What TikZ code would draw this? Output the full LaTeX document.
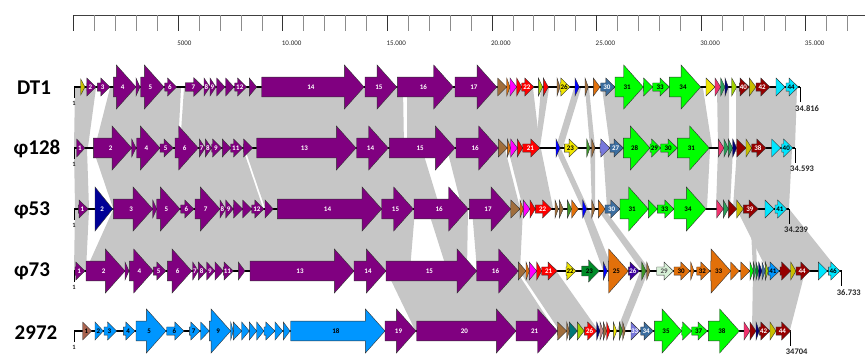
\documentclass[tikz,border=0pt]{standalone}
\usepackage{fontspec}
\setmainfont{Carlito}

\definecolor{phpurple}{RGB}{128,0,128}
\definecolor{phbrown}{RGB}{160,110,60}
\definecolor{phorange}{RGB}{226,112,10}
\definecolor{phmagenta}{RGB}{255,0,255}
\definecolor{phred}{RGB}{255,0,0}
\definecolor{phlime}{RGB}{0,255,0}
\definecolor{phygreen}{RGB}{160,210,0}
\definecolor{phgreen}{RGB}{60,150,40}
\definecolor{phyellow}{RGB}{240,230,0}
\definecolor{phblue}{RGB}{0,0,255}
\definecolor{phsteel}{RGB}{60,110,160}
\definecolor{phpink}{RGB}{240,50,110}
\definecolor{phsea}{RGB}{40,160,90}
\definecolor{phnavy}{RGB}{0,0,120}
\definecolor{phdred}{RGB}{150,0,0}
\definecolor{pholive}{RGB}{200,190,0}
\definecolor{phcyan}{RGB}{0,230,255}
\definecolor{phsky}{RGB}{0,150,255}
\definecolor{phdgreen}{RGB}{0,140,40}
\definecolor{phpale}{RGB}{215,240,215}
\definecolor{phindigo}{RGB}{60,0,160}
\definecolor{phlav}{RGB}{120,120,220}
\definecolor{phteal}{RGB}{0,120,120}
\definecolor{phsienna}{RGB}{170,100,80}
\definecolor{phrosy}{RGB}{200,140,140}
\definecolor{phdblue}{RGB}{0,0,150}
\definecolor{homgray}{RGB}{198,198,198}

\tikzset{
  orf/.style={draw=black!80,line width=0.4pt,line join=miter},
  orflbl/.style={font=\fontsize{7}{7}\selectfont\bfseries,inner sep=0pt},
  hom/.style={fill=homgray},
  backbone/.style={line width=1.3pt,black},
  rowlbl/.style={font=\fontsize{21}{21}\selectfont\bfseries,inner sep=0pt},
  endlbl/.style={font=\fontsize{8.5}{8.5}\selectfont\bfseries,text=black!85,inner sep=0pt},
  rullbl/.style={font=\fontsize{7}{7}\selectfont,text=black!85,inner sep=0pt}
}

\newcounter{orfno}
% #1 row y, #2 start, #3 end, #4 half height of head, #5 fill, #6 label, #7 label colour
\newcommand\orf[7]{%
  \pgfmathsetmacro\hl{min(#3-#2,0.8*#4+2)}%
  \pgfmathsetmacro\hb{0.45*#4}%
  \pgfmathsetmacro\xh{#3-\hl}%
  \pgfmathsetmacro\xl{#2+0.5*(#3-#2)-0.1*\hl}%
  \filldraw[orf,fill=#5] (#2,#1-\hb) -- (\xh,#1-\hb) -- (\xh,#1-#4) -- (#3,#1)
    -- (\xh,#1+#4) -- (\xh,#1+\hb) -- (#2,#1+\hb) -- cycle;
  \stepcounter{orfno}%
  \node[orflbl,text=#7] (orf-\arabic{orfno}) at (\xl,#1) {#6};
}
% #1 row y, #2 end x, #3 name, #4 length text
\newcommand\genome[4]{%
  \draw[backbone] (74,#1) -- (#2,#1);
  \draw[line width=0.8pt] (74,#1) -- (74,#1+11);
  \node[endlbl,font=\fontsize{6.5}{6.5}\selectfont\bfseries] (#3-one) at (74,#1+16) {1};
  \draw[line width=0.8pt] (#2,#1) -- (#2,#1+15);
  \node[endlbl,anchor=north west] (#3-len) at (#2-5,#1+18) {#4};
}

\begin{document}
\begin{tikzpicture}[x=1pt,y=-1pt]
\useasboundingbox (0,0) rectangle (865,356);

% ruler
\draw[line width=1pt,black!75] (73.5,15) -- (865,15);
\foreach \k in {0,...,37}
  \draw[black!45,line width=0.5pt] ({73.5+20.92*\k},15) -- ++(0,16);
\foreach \k/\t in {0/,5/5000,10/10.000,15/15.000,20/20.000,25/25.000,30/30.000,35/35.000}{
  \draw[black!80,line width=0.8pt] ({73.5+20.92*\k},15) -- ++(0,16);
  \node[rullbl,anchor=west] (tick-\k) at ({72.5+20.92*\k},43) {\t};
}

% homologous regions
\foreach \ta/\tb/\ba/\bb in {75/96/74/88,110/181/95/178,184/403/180/404,407/533/407/540,
  541/549/536/540,574/581/556/563,585/589/590/595,602/703/610/712,717/729/718/729,736/797/736/795}
  \fill[hom] (\ta,88) -- (\tb,88) -- (\bb,147) -- (\ba,147) -- cycle;
\foreach \ta/\tb/\ba/\bb in {74/87/75/89,93/243/113/263,245/422/265/440,447/505/462/520,
  508/541/523/553,555/561/582/588,590/595/592/595,603/710/607/707,
  718/733/716/730,737/792/733/789}
  \fill[hom] (\ta,149) -- (\tb,149) -- (\bb,208) -- (\ba,208) -- cycle;
\foreach \ta/\tb/\ba/\bb in {75/89/74/86,113/415/86/410,428/468/447/467,472/523/477/520,
  581/589/603/613,598/605/641/650,737/790/767/838,750/755/753/757}
  \fill[hom] (\ta,210) -- (\tb,210) -- (\bb,270) -- (\ba,270) -- cycle;
\foreach \ta/\tb/\ba/\bb in {387/517/415/555,520/557/559/598,640/648/617/625,753/805/752/790}
  \fill[hom] (\ta,272) -- (\tb,272) -- (\bb,330) -- (\ba,330) -- cycle;

% genomes
\node[rowlbl] (dt1) at (34,88) {DT1};
\node[rowlbl] (p128) at (37,149) {φ128};
\node[rowlbl] (p53) at (32,210) {φ53};
\node[rowlbl] (p73) at (32,271) {φ73};
\node[rowlbl] (s2972) at (36,333) {2972};

\genome{87}{800}{dt1}{34.816}
\foreach \a/\b/\h/\c/\l/\t in {80.7/85/8/pholive/{}/white,86.7/96/9/phpurple/2/white,
  97.3/110/9/phpurple/3/white,113.3/136/22/phpurple/4/white,136/140/9/phpurple/{}/white,
  140.7/164/22/phpurple/5/white,164.7/176.7/9/phpurple/6/white,185.3/203.3/9.5/phpurple/7/white,
  204/210/9/phpurple/8/white,210/216/9/phpurple/9/white,216.7/225/9/phpurple/{}/white,
  225.7/234/9/phpurple/{}/white,234.7/246.7/9/phpurple/12/white,249.3/256.7/9/phpurple/{}/white,
  261.7/364/22/phpurple/14/white,365/396.7/22/phpurple/15/white,397.3/453.3/22/phpurple/16/white,
  455/496.7/22/phpurple/17/white,497.7/506.7/9/phbrown/{}/white,506.7/510/9/phorange/{}/white,
  510/516.7/9/phmagenta/{}/white,516.7/521.7/9/phred/{}/white,521.7/534/9/phred/22/white,
  538.3/542.7/9/phygreen/{}/white,543.3/548.3/9/phred/{}/white,557/560/9/phbrown/{}/white,
  560/570/9/phyellow/26/black,575/579.3/9/phblue/{}/white,585/588.3/9/phbrown/{}/white,
  593.3/600/9/phorange/{}/white,600.7/615/9/phsteel/30/white,615/643.3/22/phlime/31/black,
  643.3/652.7/9/phlime/{}/black,652.7/669.3/9/phlime/33/black,669.3/700.7/22/phlime/34/black,
  706/715/9/phyellow/{}/black,715/720.7/9/phpink/{}/white,720.7/725/9/phsea/{}/white,
  725/728.3/9/phnavy/{}/white,731.7/736.7/9/phygreen/{}/white,739.3/749.3/9/phdred/40/white,
  749.3/756/9/pholive/{}/white,756/770/9/phdred/42/white,776/785/9/phcyan/{}/black,
  786/798.3/9/phcyan/44/black}
  \orf{87}{\a}{\b}{\h}{\c}{\l}{\t};

\genome{148}{795}{p128}{34.593}
\foreach \a/\b/\h/\c/\l/\t in {76.7/85/9/phpurple/1/white,93.3/131.7/22/phpurple/2/white,
  131.7/136/9/phpurple/{}/white,136.7/160/22/phpurple/4/white,160/173.3/9/phpurple/5/white,
  175/198.3/22/phpurple/6/white,199.3/205.3/9/phpurple/7/white,205.3/211.7/9/phpurple/8/white,
  211.7/221.7/9/phpurple/9/white,222.3/230.7/9/phpurple/{}/white,230.7/242.7/9/phpurple/11/white,
  243.3/252.7/9/phpurple/{}/white,256.7/356/22/phpurple/13/white,356.7/388.3/22/phpurple/14/white,
  389.3/455/22/phpurple/15/white,456/498.3/22/phpurple/16/white,498.3/507.3/9/phbrown/{}/white,
  507.3/510.7/9/phorange/{}/white,510.7/517.3/9/phmagenta/{}/white,517.3/522.7/9/phred/{}/white,
  522.7/540/9/phred/21/white,556/560/9/phblue/{}/white,564.3/578.3/9/phyellow/23/black,
  586.7/590/9/phgreen/{}/white,591.7/595/9/phbrown/{}/white,600/610/9/phlav/{}/white,
  610/623.3/9/phsteel/27/white,623.3/650/22/phlime/28/black,650/660.7/9/phlime/29/black,
  660.7/677.3/9/phlime/30/black,677.3/709.3/22/phlime/31/black,718.3/724/9/phpink/{}/white,
  724/728.3/9/phsea/{}/white,728.3/732.7/9/phsea/{}/white,732.7/736.7/9/phnavy/{}/white,
  736.7/746/9/phdred/{}/white,746/751.7/9/pholive/{}/white,751.7/766/9/phdred/38/white,
  771.7/780.7/9/phcyan/{}/black,781.7/792.7/9/phcyan/40/black}
  \orf{148}{\a}{\b}{\h}{\c}{\l}{\t};

\genome{209}{789}{p53}{34.239}
\foreach \a/\b/\h/\c/\l/\t in {78.3/88.3/9/phpurple/1/white,95/112.7/22/phdblue/2/white,
  113.3/152.7/22/phpurple/3/white,152.7/156.7/9/phpurple/{}/white,156.7/180/22/phpurple/5/white,
  180.7/194/9/phpurple/6/white,195/220/22/phpurple/7/white,220/225.7/9/phpurple/8/white,
  225.7/233.3/9/phpurple/9/white,233.3/242.7/9/phpurple/{}/white,242.7/251.7/9/phpurple/{}/white,
  251.7/264/9/phpurple/12/white,265/273.3/9/phpurple/{}/white,277.3/381.7/22/phpurple/14/white,
  381.7/413.3/22/phpurple/15/white,414/468.3/22/phpurple/16/white,469.3/510.7/22/phpurple/17/white,
  510.7/520/9/phbrown/{}/white,520/523.3/9/phorange/{}/white,523.3/530/9/phmagenta/{}/white,
  530/535.3/9/phred/{}/white,535.3/551.7/9/phred/22/white,555/558.3/9/phbrown/{}/white,
  559.3/563.3/9/phbrown/{}/white,567.3/571.7/9/phgreen/{}/white,571.7/578.3/9/phorange/{}/white,
  582.7/586.7/9/phblue/{}/white,591.7/595/9/phbrown/{}/white,598.3/605/9/phorange/{}/white,
  605/620/9/phsteel/30/white,620/648.3/22/phlime/31/black,648.3/657.3/9/phlime/{}/black,
  657.3/674/9/phlime/33/black,674/706/22/phlime/34/black,716.7/723.3/9/phpink/{}/white,
  723.3/728.3/9/phsea/{}/white,728.3/736.7/9/phdred/{}/white,736.7/743.3/9/pholive/{}/white,
  743.3/758.3/9/phdred/39/white,765/774/9/phcyan/{}/black,775/786.7/9/phcyan/41/black}
  \orf{209}{\a}{\b}{\h}{\c}{\l}{\t};

\genome{271}{841.7}{p73}{36.733}
\foreach \a/\b/\h/\c/\l/\t in {75/85/9/phpurple/1/white,86/125/22/phpurple/2/white,
  125/129/9/phpurple/{}/white,129.3/153.3/22/phpurple/4/white,153.3/166/9/phpurple/5/white,
  167.3/191.7/22/phpurple/6/white,192.7/198.3/9/phpurple/7/white,198.3/206.7/9/phpurple/8/white,
  206.7/215/9/phpurple/9/white,215/223.3/9/phpurple/{}/white,223.3/233.3/9/phpurple/11/white,
  238.3/245/9/phpurple/{}/white,250/354/22/phpurple/13/white,354/386/22/phpurple/14/white,
  386/476.7/22/phpurple/15/white,476.7/518.3/22/phpurple/16/white,518.3/526/9/phbrown/{}/white,
  526/529.3/9/phorange/{}/white,529.3/536.7/9/phmagenta/{}/white,536.7/541.7/9/phred/{}/white,
  541.7/557.3/9/phred/21/white,566/576/9/phyellow/22/black,581.7/599.3/11/phdgreen/23/black,
  603.3/607.3/9/phblue/{}/white,608.3/628.3/22/phorange/25/black,628.3/639.3/9/phindigo/26/white,
  641.7/646/9/phgreen/{}/white,646.7/650/9/phbrown/{}/white,656.7/673.3/9/phpale/29/black!70,
  674/690/9/phorange/30/black,690.7/694/9/phorange/{}/black,696.7/710/9/phorange/32/black,
  710.7/730.7/22/phorange/33/black,730.7/739.3/9/phorange/{}/black,740.7/750/9/phorange/{}/black,
  750/753.3/9/phlime/{}/black,753.3/756/9/phsea/{}/white,756/758.7/9/phdgreen/{}/white,
  758.7/762/9/phnavy/{}/white,762/765.3/9/phsteel/{}/white,765.3/768.3/9/phygreen/{}/white,
  768.3/779.3/9/phsky/41/black,780/790.7/9/phdred/{}/white,790.7/796/9/pholive/{}/white,
  796/810/9/phdred/44/white,818.3/827.3/9/phcyan/{}/black,828.3/840/9/phcyan/46/black}
  \orf{271}{\a}{\b}{\h}{\c}{\l}{\t};

\genome{331}{790.7}{s2972}{34704}
\foreach \a/\b/\h/\c/\l/\t in {82.7/91.7/9/phsienna/1/black,95/103.3/9/phsky/2/black,
  104/116.7/9/phsky/3/black,123.3/135/9/phsky/4/black,136/166/22/phsky/5/black,
  166.7/184/9/phsky/6/black,189.3/200/9/phsky/7/black,200.7/209.3/9/phsky/{}/black,
  209.3/230.7/22/phsky/9/black,230.7/233.3/9/phsky/{}/black,233.3/241.7/9/phsky/{}/black,
  241.7/249.3/9/phsky/{}/black,249.3/256.7/9/phsky/{}/black,256.7/264/9/phsky/{}/black,
  264/275/9/phsky/{}/black,275/282.7/9/phsky/{}/black,283.3/290/9/phsky/{}/black,
  290.7/385/22/phsky/18/black,385/416/22/phpurple/19/white,416.7/516/22/phpurple/20/white,
  516/557.3/22/phpurple/21/white,557.3/566.7/9/phbrown/{}/white,566.7/569.3/9/phbrown/{}/white,
  569.3/577.3/9/phteal/{}/white,577.3/584.3/9/phygreen/{}/white,584.3/596.7/9/phred/26/white,
  596.7/600/9/phnavy/{}/white,600/603.3/9/phrosy/{}/white,603.3/606.7/9/phbrown/{}/white,
  606.7/610/9/phred/{}/white,613.3/616.7/9/phyellow/{}/white,619.3/622.7/9/phgreen/{}/white,
  622.7/625.3/9/phbrown/{}/white,631/640/9/phlav/33/white,640.7/653.3/9/phsteel/34/white,
  654.3/681.7/22/phlime/35/black,681.7/691.7/9/phlime/{}/black,691.7/707.3/9/phlime/37/black,
  708.3/739.3/22/phlime/38/black,744/750/9/phpink/{}/white,750/756/9/phdred/{}/white,
  756/759.3/9/phnavy/{}/white,759.3/770/9/phdred/42/white,770/776/9/pholive/{}/white,
  776/790.7/9/phdred/44/white}
  \orf{331}{\a}{\b}{\h}{\c}{\l}{\t};

\end{tikzpicture}
\end{document}
